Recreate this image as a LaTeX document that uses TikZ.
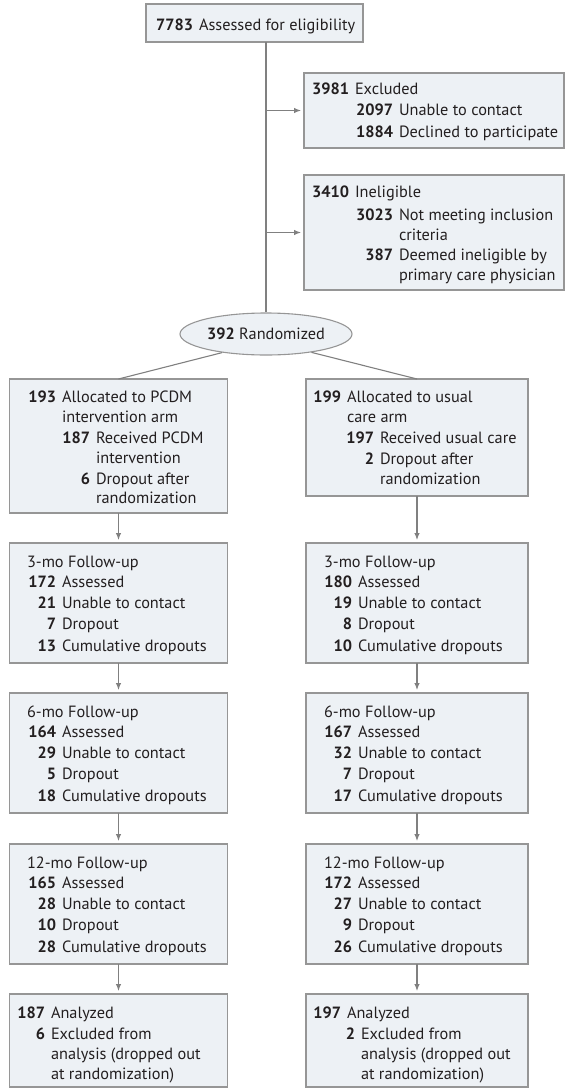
\documentclass[tikz,border=0pt]{standalone}
\usepackage{fontspec}
\setmainfont{PT Sans}
\usetikzlibrary{shapes.geometric,arrows.meta,calc}
\definecolor{boxfill}{RGB}{237,241,245}
\definecolor{boxdraw}{RGB}{150,150,150}
\definecolor{linec}{RGB}{128,128,128}
\definecolor{txt}{RGB}{35,31,32}
\newcommand\fs{\fontsize{16.3bp}{19bp}\selectfont}
\newcounter{tl}
\newcommand\tline[4]{\stepcounter{tl}\node[tl] (tl\thetl) at (#1,#2) {\if\relax\detokenize{#3}\relax\else\llap{\textbf{#3}\hspace{6bp}}\fi #4};}
\begin{document}
\begin{tikzpicture}[x=1bp,y=-1bp,
  box/.style={rectangle, draw=boxdraw, fill=boxfill, line width=1.1bp, inner sep=0pt, outer sep=0pt, anchor=north west},
  tl/.style={anchor=base west, inner sep=0pt, outer sep=0pt, text=txt, font=\fs},
  conn/.style={draw=linec, line width=1.1bp},
  arr/.style={conn, -{Latex[length=7bp,width=5.5bp]}, shorten >=3bp},
]
\useasboundingbox (0,0) rectangle (565,1088);

% boxes
\node[box, minimum width=217bp, minimum height=38bp] (assess) at (146,4) {};
\node[box, minimum width=260bp, minimum height=75bp] (excl) at (304,73) {};
\node[box, minimum width=260bp, minimum height=115bp] (inel) at (304,175) {};
\node[ellipse, draw=boxdraw, fill=boxfill, line width=1.1bp, minimum width=172bp, minimum height=42bp, inner sep=0pt, font=\fs, text=txt] (rand) at (266,334) {\textbf{392} Randomized};
\node[box, minimum width=218bp, minimum height=134bp] (allocL) at (9.5,379) {};
\node[box, minimum width=222bp, minimum height=117bp] (allocR) at (306,379) {};
\node[box, minimum width=218bp, minimum height=120bp] (f3L) at (9.5,543) {};
\node[box, minimum width=222bp, minimum height=120bp] (f3R) at (306,543) {};
\node[box, minimum width=218bp, minimum height=120bp] (f6L) at (9.5,693) {};
\node[box, minimum width=222bp, minimum height=120bp] (f6R) at (306,693) {};
\node[box, minimum width=218bp, minimum height=120bp] (f12L) at (9.5,844) {};
\node[box, minimum width=222bp, minimum height=120bp] (f12R) at (306,844) {};
\node[box, minimum width=218bp, minimum height=93bp] (anL) at (9.5,994) {};
\node[box, minimum width=222bp, minimum height=93bp] (anR) at (306,994) {};

% connectors
\draw[conn] (assess.south -| rand.north) -- (rand.north);
\draw[arr] (excl.west -| rand.north) -- (excl.west);
\draw[arr] (inel.west -| rand.north) -- (inel.west);
\draw[conn] (rand.203) -- (allocL.north);
\draw[conn] (rand.338) -- (allocR.north);
\draw[arr] (allocL.south) -- (f3L.north);
\draw[arr] (allocR.south) -- (f3R.north);
\draw[arr] (f3L.south) -- (f6L.north);
\draw[arr] (f3R.south) -- (f6R.north);
\draw[arr] (f6L.south) -- (f12L.north);
\draw[arr] (f6R.south) -- (f12R.north);
\draw[arr] (f12L.south) -- (anL.north);
\draw[arr] (f12R.south) -- (anR.north);

% texts
\tline{199}{30}{7783}{Assessed for eligibility}

\tline{355}{94}{3981}{Excluded}
\tline{399}{115}{2097}{Unable to contact}
\tline{399}{137}{1884}{Declined to participate}

\tline{355}{197}{3410}{Ineligible}
\tline{399}{220}{3023}{Not meeting inclusion}
\tline{399}{240}{}{criteria}
\tline{399}{260}{387}{Deemed ineligible by}
\tline{399}{280}{}{primary care physician}

\tline{62}{402}{193}{Allocated to PCDM}
\tline{62}{422}{}{intervention arm}
\tline{96}{443}{187}{Received PCDM}
\tline{96}{463}{}{intervention}
\tline{96}{484}{6}{Dropout after}
\tline{96}{503}{}{randomization}

\tline{347}{402}{199}{Allocated to usual}
\tline{347}{422}{}{care arm}
\tline{380}{443}{197}{Received usual care}
\tline{380}{464}{2}{Dropout after}
\tline{380}{484}{}{randomization}

\tline{27}{567}{}{3-mo Follow-up}
\tline{62}{587}{172}{Assessed}
\tline{62}{608}{21}{Unable to contact}
\tline{62}{629}{7}{Dropout}
\tline{62}{651}{13}{Cumulative dropouts}

\tline{324}{567}{}{3-mo Follow-up}
\tline{358}{587}{180}{Assessed}
\tline{358}{608}{19}{Unable to contact}
\tline{358}{629}{8}{Dropout}
\tline{358}{651}{10}{Cumulative dropouts}

\tline{27}{717}{}{6-mo Follow-up}
\tline{62}{737}{164}{Assessed}
\tline{62}{758}{29}{Unable to contact}
\tline{62}{779}{5}{Dropout}
\tline{62}{801}{18}{Cumulative dropouts}

\tline{324}{717}{}{6-mo Follow-up}
\tline{358}{737}{167}{Assessed}
\tline{358}{758}{32}{Unable to contact}
\tline{358}{779}{7}{Dropout}
\tline{358}{801}{17}{Cumulative dropouts}

\tline{27}{868}{}{12-mo Follow-up}
\tline{62}{888}{165}{Assessed}
\tline{62}{909}{28}{Unable to contact}
\tline{62}{930}{10}{Dropout}
\tline{62}{952}{28}{Cumulative dropouts}

\tline{324}{868}{}{12-mo Follow-up}
\tline{358}{888}{172}{Assessed}
\tline{358}{909}{27}{Unable to contact}
\tline{358}{930}{9}{Dropout}
\tline{358}{952}{26}{Cumulative dropouts}

\tline{51}{1018}{187}{Analyzed}
\tline{51}{1039}{6}{Excluded from}
\tline{51}{1059}{}{analysis (dropped out}
\tline{51}{1079}{}{at randomization)}

\tline{347}{1018}{197}{Analyzed}
\tline{361}{1039}{2}{Excluded from}
\tline{361}{1059}{}{analysis (dropped out}
\tline{361}{1079}{}{at randomization)}
\end{tikzpicture}
\end{document}
